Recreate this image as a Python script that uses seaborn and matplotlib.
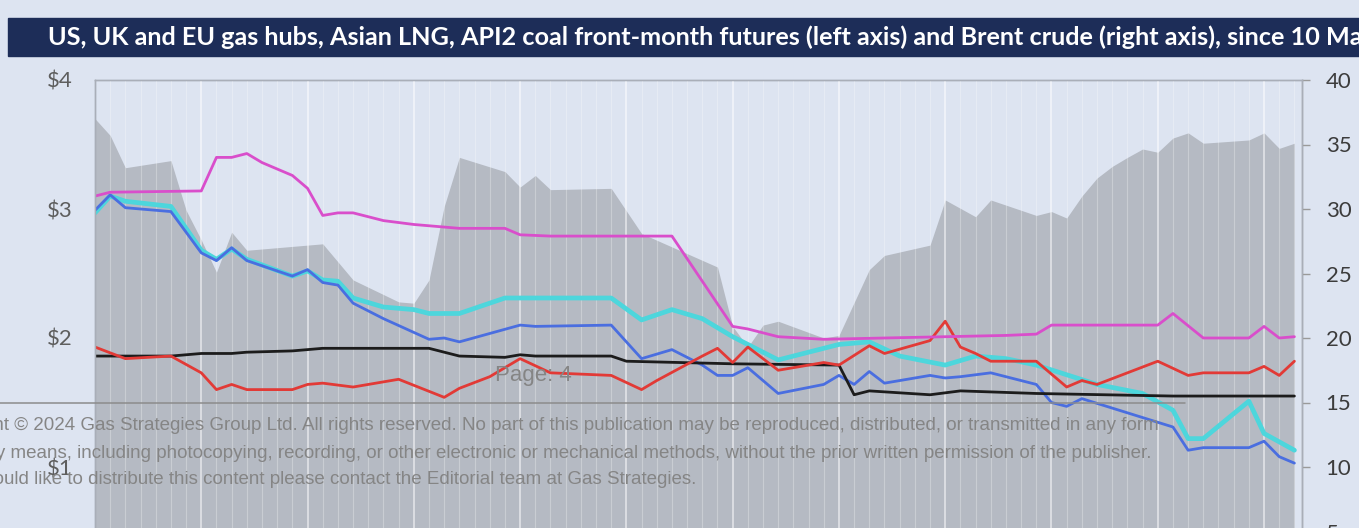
import seaborn as sns
import matplotlib.pyplot as plt
import matplotlib.ticker as mticker
from matplotlib.lines import Line2D
from matplotlib.patches import Rectangle
import pandas as pd


# valores (x = dias desde 10 de marco)

# Asian LNG (magenta), $ eixo esquerdo
lng_dias = [0, 1, 7, 8, 9, 10, 11, 13, 14, 15, 16, 17, 19, 21, 24, 27, 28, 30, 38, 42, 43, 45, 48,
            60, 62, 63, 70, 71, 73, 76, 77, 78, 79]
lng = [3.10, 3.13, 3.14, 3.40, 3.40, 3.43, 3.36, 3.26, 3.16, 2.95, 2.97, 2.97, 2.91, 2.88, 2.85, 2.85,
       2.80, 2.79, 2.79, 2.09, 2.07, 2.01, 1.99, 2.02, 2.03, 2.10, 2.10, 2.19, 2.00, 2.00, 2.09, 2.00, 2.01]

# EU gas hub (ciano)
eu_dias = [0, 1, 2, 5, 7, 8, 9, 10, 13, 14, 15, 16, 17, 19, 21, 22, 24, 27, 34, 36, 38, 40, 42, 45,
           49, 51, 53, 56, 58, 60, 62, 66, 69, 71, 72, 73, 76, 77, 79]
eu = [2.97, 3.10, 3.06, 3.02, 2.68, 2.61, 2.69, 2.61, 2.48, 2.52, 2.45, 2.44, 2.31, 2.24, 2.22, 2.19,
      2.19, 2.31, 2.31, 2.14, 2.22, 2.15, 2.01, 1.83, 1.95, 1.97, 1.86, 1.79, 1.86, 1.84, 1.79, 1.64,
      1.57, 1.44, 1.22, 1.22, 1.51, 1.26, 1.13]

# UK gas hub (azul)
uk_dias = [0, 1, 2, 5, 7, 8, 9, 10, 13, 14, 15, 16, 17, 19, 22, 23, 24, 28, 29, 34, 36, 38, 40, 41,
           42, 43, 45, 48, 49, 50, 51, 52, 55, 56, 57, 59, 62, 63, 64, 65, 71, 72, 73, 76, 77, 78, 79]
uk = [2.99, 3.11, 3.01, 2.98, 2.66, 2.60, 2.70, 2.60, 2.48, 2.53, 2.43, 2.41, 2.27, 2.15, 1.99, 2.00,
      1.97, 2.10, 2.09, 2.10, 1.84, 1.91, 1.79, 1.71, 1.71, 1.77, 1.57, 1.64, 1.71, 1.64, 1.74, 1.65,
      1.71, 1.69, 1.70, 1.73, 1.64, 1.50, 1.47, 1.53, 1.31, 1.13, 1.15, 1.15, 1.20, 1.08, 1.03]

# API2 coal (preto)
coal_dias = [0, 5, 7, 9, 10, 13, 15, 22, 24, 27, 28, 29, 34, 35, 42, 49, 50, 51, 55, 57, 62, 71, 79]
coal = [1.86, 1.86, 1.88, 1.88, 1.89, 1.90, 1.92, 1.92, 1.86, 1.85, 1.87, 1.86, 1.86, 1.82, 1.80,
        1.79, 1.56, 1.59, 1.56, 1.59, 1.57, 1.55, 1.55]

# US gas hub (vermelho)
us_dias = [0, 2, 5, 7, 8, 9, 10, 13, 14, 15, 17, 20, 23, 24, 26, 28, 30, 34, 36, 37, 40, 41, 42, 43,
           45, 48, 49, 51, 52, 55, 56, 57, 58, 59, 62, 64, 65, 66, 70, 72, 73, 76, 77, 78, 79]
us = [1.93, 1.84, 1.86, 1.73, 1.60, 1.64, 1.60, 1.60, 1.64, 1.65, 1.62, 1.68, 1.54, 1.61, 1.70, 1.84,
      1.73, 1.71, 1.60, 1.67, 1.86, 1.92, 1.81, 1.93, 1.75, 1.81, 1.79, 1.94, 1.88, 1.98, 2.13, 1.93,
      1.88, 1.82, 1.82, 1.62, 1.67, 1.64, 1.82, 1.71, 1.73, 1.73, 1.78, 1.71, 1.82]

# Brent crude (area cinza), eixo direito
brent_dias = [0, 1, 2, 5, 6, 7, 8, 9, 10, 15, 17, 20, 21, 22, 23, 24, 27, 28, 29, 30, 34, 36, 41, 42,
              43, 44, 45, 48, 49, 51, 52, 55, 56, 58, 59, 62, 63, 64, 65, 66, 67, 68, 69, 70, 71, 72,
              73, 76, 77, 78, 79]
brent = [37.0, 35.7, 33.2, 33.75, 29.9, 27.6, 25.1, 28.2, 26.8, 27.3, 24.5, 22.8, 22.7, 24.5, 30.2,
         34.0, 32.9, 31.7, 32.6, 31.5, 31.6, 28.1, 25.5, 20.9, 19.3, 21.0, 21.3, 20.0, 20.2, 25.3, 26.4,
         27.2, 30.7, 29.4, 30.7, 29.5, 29.8, 29.3, 31.0, 32.4, 33.3, 34.0, 34.65, 34.4, 35.5, 35.9,
         35.1, 35.35, 35.9, 34.7, 35.1]

series = ['EU', 'UK', 'API2', 'US', 'LNG']
cores = {'EU': '#4dd6dc', 'UK': '#4a6ee0', 'API2': '#1c1c1c', 'US': '#e23a36', 'LNG': '#d94ecb'}
larguras = {'EU': 3.4, 'UK': 2.0, 'API2': 2.0, 'US': 2.0, 'LNG': 2.0}

partes = []
for nome, d, v in [('EU', eu_dias, eu), ('UK', uk_dias, uk), ('API2', coal_dias, coal),
                   ('US', us_dias, us), ('LNG', lng_dias, lng)]:
    partes.append(pd.DataFrame({'dia': d, 'valor': v, 'serie': nome}))
df = pd.concat(partes, ignore_index=True)

sns.set_theme(style='white')
plt.rcParams['font.family'] = ['Lato', 'DejaVu Sans']

fundo = '#dde4f1'
W, H = 1359, 528
fig = plt.figure(figsize=(W / 100, H / 100), dpi=100, facecolor=fundo)

# eixo vai alem da borda de baixo (a imagem original esta cortada)
ax = fig.add_axes([95 / W, (H - 596) / H, 1207 / W, 516 / H])
ax2 = ax.twinx()
ax.set_zorder(ax2.get_zorder() + 1)
ax.patch.set_visible(False)
ax2.set_facecolor(fundo)

ax2.fill_between(brent_dias, brent, 0, color='#b5bac3', lw=0)
ax2.set_ylim(0, 40)

sns.lineplot(data=df, x='dia', y='valor', hue='serie', hue_order=series, palette=cores,
             size='serie', size_order=series, sizes=larguras, estimator=None,
             legend=False, ax=ax)

ax.set_xlim(0, 79.5)
ax.set_ylim(0, 4)
ax.set_xlabel('')
ax.set_ylabel('')
ax.xaxis.set_major_locator(mticker.MultipleLocator(7))
ax.xaxis.set_minor_locator(mticker.MultipleLocator(1))
ax.grid(True, which='major', axis='x', color='white', lw=1.2, alpha=0.6)
ax.grid(True, which='minor', axis='x', color='white', lw=0.8, alpha=0.28)
ax.set_axisbelow(True)
ax.tick_params(axis='x', which='both', length=0, labelbottom=False)

ax.set_yticks([1, 2, 3, 4])
ax.set_yticklabels(['\\$1', '\\$2', '\\$3', '\\$4'])
ax.tick_params(axis='y', length=0, pad=16, labelsize=16, labelcolor='#5e5e5e')

ax2.set_yticks([5, 10, 15, 20, 25, 30, 35, 40])
ax2.tick_params(axis='y', direction='out', length=6, width=1, color='#9a9a9a', pad=11,
                labelsize=16, labelcolor='#3c3c3c')

for a in (ax, ax2):
    for lado in ['top', 'left', 'right', 'bottom']:
        a.spines[lado].set_color('#a9aeb8')
        a.spines[lado].set_linewidth(1)
ax2.spines['right'].set_color('#9a9a9a')

# barra do titulo
fig.patches.append(Rectangle((8 / W, (H - 56) / H), 1.2, 38 / H, transform=fig.transFigure,
                             color='#1d2d58', zorder=5))
fig.text(48 / W, (H - 37) / H,
         'US, UK and EU gas hubs, Asian LNG, API2 coal front-month futures (left axis) '
         'and Brent crude (right axis), since 10 March',
         color='white', fontsize=18.2, fontweight='bold', va='center', ha='left', zorder=6)

# sobreposicao do pdf (pagina e copyright)
cinza = '#858585'
fig.text(533 / W, (H - 376) / H, 'Page: 4', ha='center', va='center', fontsize=16,
         family='Liberation Sans', color=cinza, zorder=7)
fig.add_artist(Line2D([0, 1185 / W], [(H - 403) / H] * 2, transform=fig.transFigure,
                      color='#8c8c8c', lw=1.1, zorder=7))
linhas = [
    ('Copyright \u00a9 2024 Gas Strategies Group Ltd. All rights reserved. No part of this publication '
     'may be reproduced, distributed, or transmitted in any form', 1159, 426),
    ('or by any means, including photocopying, recording, or other electronic or mechanical methods, '
     'without the prior written permission of the publisher.', 1151, 453),
    ('If you would like to distribute this content please contact the Editorial team at Gas Strategies.',
     696, 480),
]
for txt, xr, yc in linhas:
    fig.text(xr / W, (H - yc) / H, txt, ha='right', va='center', fontsize=13.5,
             family='Liberation Sans', color=cinza, zorder=7)

plt.savefig('out.png', dpi=100, facecolor=fundo)
plt.close()
